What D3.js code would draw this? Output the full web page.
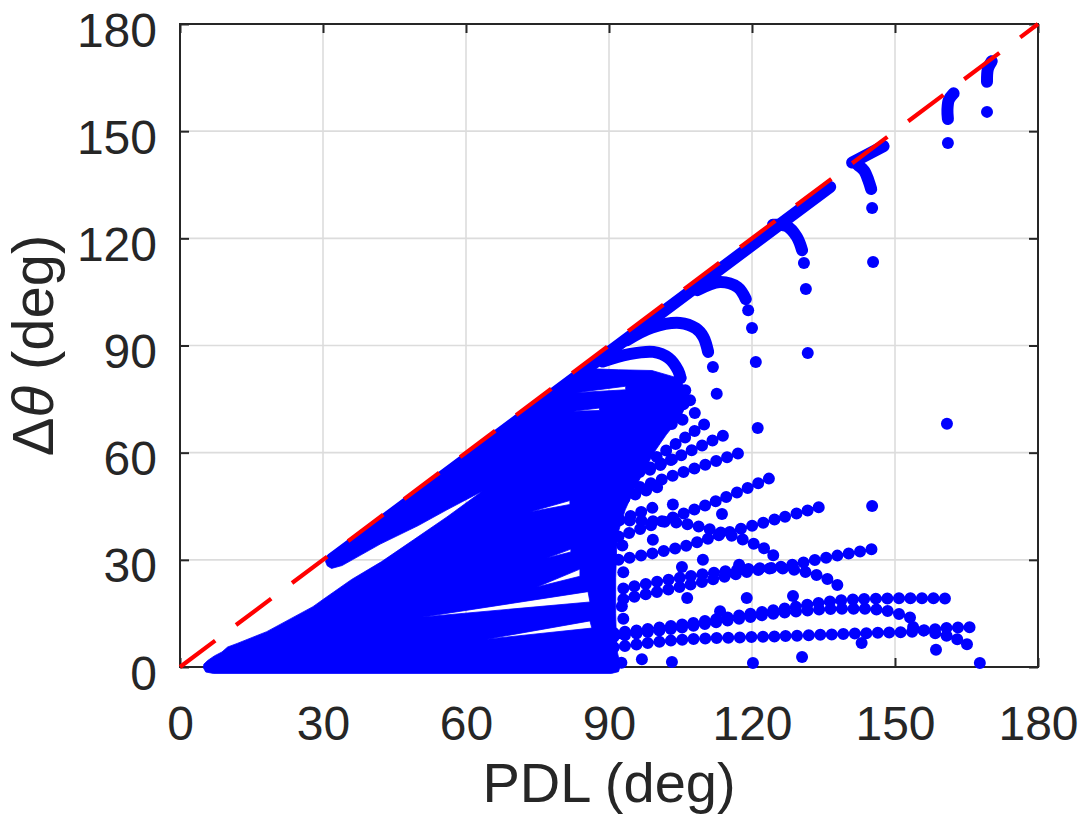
<!DOCTYPE html>
<html><head><meta charset="utf-8">
<script src="https://cdn.jsdelivr.net/npm/d3@7"></script>
<style>body{margin:0;background:#fff}svg{display:block}</style>
</head><body>
<svg id="c" width="1084" height="835"></svg>
<script>
// ---------- data (degrees) ----------
const xTicks = [0, 30, 60, 90, 120, 150, 180];
const yTicks = [0, 30, 60, 90, 120, 150, 180];
const refLine = [[0, 0], [180, 180]];

// dense (overplotted) region outline and the white slivers inside it
const denseOuter = [
  [4.9,-0.2],[5.4,-1.4],[7,-1.8],[30,-1.8],[60,-1.8],[90.5,-1.8],[92,-1.3],[92.4,0.5],
  [91.6,5],[91.4,15],[91.4,25],[91.6,33],[92,38],[93.4,44],[95.4,50],[97.4,55],[99.4,60],
  [102,65],[105,70],[106.6,74.5],[106.2,78],[104.2,81],[99,83],[92,83.2],[84,83.6],
  [70,69.5],[50,49.4],[36,35.3],[32.5,31.6],[31.2,30.8],[30.5,29.6],[30.9,28.3],[31.8,27.6],
  [34,28.4],[42,34.4],[50,39.6],[56,44],[63.4,49.2],
  [56,42],[49,35.6],[42.3,29.5],[36,24.5],[30,18.9],[27.9,16.9],[18.2,9.9],[12,6.6],
  [10,5.6],[8.8,4.2],[7.2,3.1],[5.8,1.8],[5.0,0.8]
];
const hole1 = [[51,14],[85.6,21.1],[86,18.2]];
const hole2 = [[64.4,7.8],[86,12.9],[86.4,10.9]];
const hole3 = [[74.9,22.4],[83.9,27.4],[83.9,25.4]];
const hole4 = [[77,30.5],[82,33],[82,32.2]];
const hole5 = [[73.4,43.4],[81.8,46.6],[81.8,45.5]];
const hole6 = [[83,76.8],[93.5,78.6],[93.5,77.6]];
const hole7 = [[82.5,71.6],[88,72.5],[88,71.8]];

// continuous (touching-marker) runs
const band   = [[31.8,30.2],[136.4,134.4]];
const arcD   = [[88.7,85.5],[94,87.5],[99.3,88.2],[102.5,86.5],[104.5,83],[105,80.9]];
const arcC   = [[93.8,91.5],[99,95],[104.9,96.3],[108.2,94.8],[109.8,92.4],[110.8,88.2]];
const arcA   = [[108.5,105.5],[113.3,107.8],[117,106.3],[118.7,103]];
const arcB   = [[124.4,123.8],[127.3,123.4],[129.4,120.4],[130.5,116.7]];
const c145a  = [[141,141.2],[147.6,145.8]];
const c145b  = [[142.2,140.5],[143.5,139],[144.4,136.3],[145,133.8]];
const c161   = [[162.3,160.6],[161.3,158.8],[161,156],[161.1,153.4]];
const c168   = [[170.3,169.6],[169.5,167.5],[169.3,163.8]];

// dotted runs (separate markers)
const fan1 = [[100,58.8],[110.5,68.4]];
const fan2 = [[98.6,55.2],[114.3,65]];
const fan3 = [[96.5,50.4],[118.7,60.5]];
const fan4 = [[92,36.5],[104.9,42.6],[113.9,47.2],[125.7,54]];
const fan5 = [[92,30],[104.9,33.5],[113.3,37],[125.9,41.7],[134.3,44.8]];
const bend1 = [[92,41],[104.9,40.3],[113.9,37.5],[123.1,32.8],[124.8,30.8]];
const fan6 = [[93,19],[104.9,22.4],[118.9,26.6],[125.9,28],[136.4,30.8],[147,33.4]];
const bend2 = [[93,22],[105,25],[118,27.3],[126,27.6],[131.5,26.5],[136,24.5],[138.5,22.4]];
const low1 = [[91,9.5],[104.9,11.8],[125,16],[140,18.8],[161,19.2]];
const low2 = [[91,8.5],[104.9,11],[125.9,15.1],[138.4,16.3],[148,15.8],[153.5,13.7]];
const low3 = [[91,5.5],[104.9,7.6],[125.9,8.6],[146.8,9.6],[153.8,9.9],[160.9,10.9],[167.6,11.2]];
const low3b = [[153.8,11.2],[158,9.6],[162.2,8.2],[165,6.5]];
const edge1 = [[94,64],[101,67],[106,69.5]];
const edge2 = [[92,52],[99,56],[104,58.5]];
const edge3 = [[91,46],[98,49.5],[102,51]];
const edge4 = [[90,40],[96,43],[100,45]];
const edge5 = [[95,79],[101,78.5],[104.5,75.5],[106.5,71.5]];

// isolated markers
const tailDots = [[105,80.9],[106,77.5],[107,74.7],[108,71.1],[111.8,84],[112.6,76.5],
  [119.2,99.9],[120,94.9],[120.8,85.4],[130.9,113.1],[131.3,105.8],[131.7,87.9],
  [145.2,128.5],[145.4,113.4],[161.1,146.7],[160.9,68.1],[169.3,155.4]];
const looseDots = [[96.9,2.2],[103.2,1.4],[120.2,1.1],[130.5,2.8],[143,6.7],[158.6,4.8],
  [165.1,6.4],[167.8,1.1],[105.3,28],[109.7,30],[117.3,28.6],[106.4,19.3],[118.9,19.3],
  [128.6,19.9],[113.3,15.6],[103.4,45.5],[113.7,42.8],[121.2,66.9],[145.2,45.1],[99.2,35.6]];
const edgeDots = [[92.6,1.2],[93,13.5],[92.7,17],[93,26.5],[92.8,34]];

// ---------- drawing ----------
const FONT = '"Liberation Sans", Arial, Helvetica, sans-serif';
const INK = '#262626', BLUE = '#0000ff', RED = '#ff0000';
const MS = 12; // marker diameter in px
const svg = d3.select('#c');
const x = d3.scaleLinear().domain([0, 180]).range([180, 1038]);
const y = d3.scaleLinear().domain([0, 180]).range([667, 24]);

// grid
const grid = svg.append('g').attr('stroke', '#dcdcdc').attr('stroke-width', 1.6);
grid.selectAll('line.gx').data(xTicks.slice(1, -1)).join('line')
  .attr('x1', d => x(d)).attr('x2', d => x(d)).attr('y1', y(0)).attr('y2', y(180));
grid.selectAll('line.gy').data(yTicks.slice(1, -1)).join('line')
  .attr('y1', d => y(d)).attr('y2', d => y(d)).attr('x1', x(0)).attr('x2', x(180));

// frame
svg.append('rect').attr('x', x(0)).attr('y', y(180))
  .attr('width', x(180) - x(0)).attr('height', y(0) - y(180))
  .attr('fill', 'none').attr('stroke', INK).attr('stroke-width', 2);

function styleAxis(g) {
  g.attr('font-family', FONT).attr('font-size', 48);
  g.select('.domain').remove();
  g.selectAll('line').attr('stroke', INK).attr('stroke-width', 2);
  g.selectAll('text').attr('fill', INK);
}
svg.append('g').attr('transform', `translate(0,${y(0)})`)
  .call(d3.axisBottom(x).tickValues(xTicks).tickSizeInner(-9).tickSizeOuter(0).tickPadding(39))
  .call(styleAxis);
svg.append('g').attr('transform', `translate(0,${y(180)})`)
  .call(d3.axisTop(x).tickValues(xTicks).tickSizeInner(-9).tickSizeOuter(0).tickFormat(''))
  .call(styleAxis);
const yl = svg.append('g').attr('transform', `translate(${x(0)},0)`)
  .call(d3.axisLeft(y).tickValues(yTicks).tickSizeInner(-9).tickSizeOuter(0).tickPadding(23))
  .call(styleAxis);
yl.selectAll('text').attr('dy', '0.46em');
svg.append('g').attr('transform', `translate(${x(180)},0)`)
  .call(d3.axisRight(y).tickValues(yTicks).tickSizeInner(-9).tickSizeOuter(0).tickFormat(''))
  .call(styleAxis);

// axis titles
svg.append('text').attr('x', (x(0) + x(180)) / 2).attr('y', 802)
  .attr('text-anchor', 'middle').attr('font-family', FONT).attr('font-size', 56)
  .attr('fill', INK).text('PDL (deg)');
const yt = svg.append('text').attr('transform', `translate(53,${(y(0) + y(180)) / 2}) rotate(-90)`)
  .attr('text-anchor', 'middle').attr('font-family', FONT).attr('font-size', 58).attr('fill', INK);
yt.append('tspan').text('Δ');
yt.append('tspan').attr('font-style', 'italic').text('θ');
yt.append('tspan').text(' (deg)');

// dense region
const ring = d3.line().x(d => x(d[0])).y(d => y(d[1])).curve(d3.curveLinearClosed);
const denseD = [denseOuter, hole1, hole2, hole3, hole4, hole5, hole6, hole7].map(r => ring(r)).join('');
svg.append('path').attr('d', denseD).attr('fill', BLUE).attr('fill-rule', 'evenodd')
  .attr('stroke', BLUE).attr('stroke-width', 0.8).attr('stroke-linejoin', 'round');

const curve = d3.line().x(d => x(d[0])).y(d => y(d[1])).curve(d3.curveCatmullRom);
const solids = [band, arcD, arcC, arcA, arcB, c145a, c145b, c161, c168];
svg.append('g').selectAll('path').data(solids).join('path')
  .attr('d', curve).attr('fill', 'none').attr('stroke', BLUE).attr('stroke-width', MS)
  .attr('stroke-linecap', 'round').attr('stroke-linejoin', 'round');

const dotted = [fan1, fan2, fan3, fan4, fan5, bend1, fan6, bend2, low1, low2, low3, low3b,
                edge1, edge2, edge3, edge4, edge5];
svg.append('g').selectAll('path').data(dotted).join('path')
  .attr('d', curve).attr('fill', 'none').attr('stroke', BLUE).attr('stroke-width', MS)
  .attr('stroke-linecap', 'round').attr('stroke-dasharray', '0 11.5');

svg.append('g').selectAll('circle').data(tailDots.concat(looseDots, edgeDots)).join('circle')
  .attr('cx', d => x(d[0])).attr('cy', d => y(d[1])).attr('r', MS / 2).attr('fill', BLUE);

// reference line y = x
svg.append('path').datum(refLine)
  .attr('d', d3.line().x(d => x(d[0])).y(d => y(d[1])))
  .attr('fill', 'none').attr('stroke', RED).attr('stroke-width', 4.2)
  .attr('stroke-dasharray', '44 26');
</script>
</body></html>
